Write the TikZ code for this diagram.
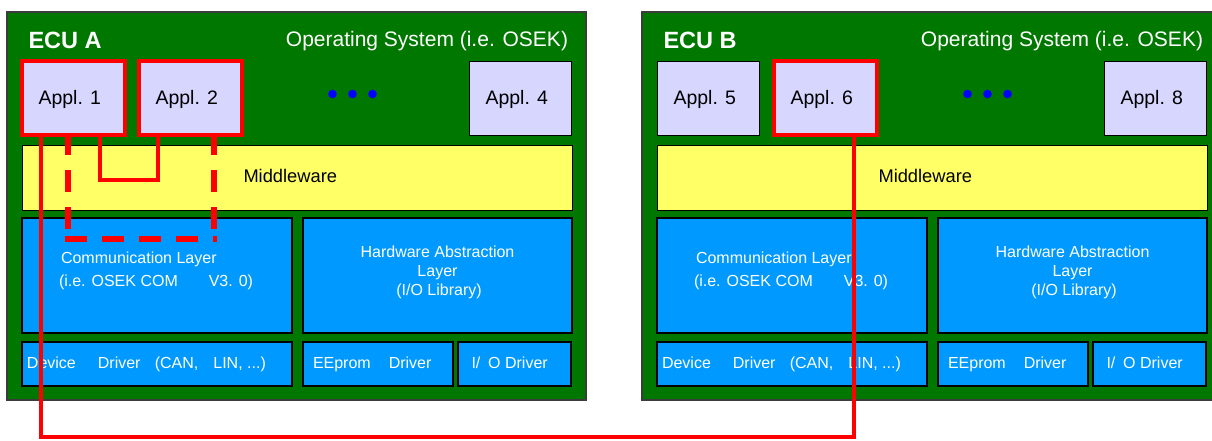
\documentclass[tikz,border=0pt]{standalone}
\usepackage{fontspec}
\setmainfont{Liberation Sans}
\usetikzlibrary{calc}
\definecolor{ecugreen}{RGB}{0,120,0}
\definecolor{appllav}{RGB}{214,214,255}
\definecolor{mwyellow}{RGB}{255,255,102}
\definecolor{layblue}{RGB}{0,153,255}
\definecolor{ecuframe}{RGB}{60,60,60}
\tikzset{
 box/.style={rectangle, anchor=north west, inner sep=0pt, outer sep=0pt},
 ecubox/.style={box, fill=ecugreen, draw=ecuframe, line width=1.5pt, minimum width=579pt, minimum height=388pt},
 applbox/.style={box, fill=appllav, draw=black, line width=1pt, minimum width=102.5pt, minimum height=74pt},
 hilite/.style={draw=red, line width=4pt},
 mwbox/.style={box, fill=mwyellow, draw=black, line width=1pt, minimum width=550pt, minimum height=65pt},
 laybox/.style={box, fill=layblue, draw=black, line width=1.5pt},
 txt/.style={inner sep=0pt, outer sep=0pt, anchor=base west},
 ecutitle/.style={txt, text=white, font=\fontsize{23.5}{26}\selectfont\bfseries},
 ostxt/.style={txt, anchor=base east, text=white, font=\fontsize{21}{24}\selectfont},
 appltxt/.style={txt, font=\fontsize{19.5}{22}\selectfont},
 mwtxt/.style={txt, font=\fontsize{18.3}{21}\selectfont},
 laytxt/.style={txt, text=white, font=\fontsize{16}{19}\selectfont},
 dotmark/.style={circle, fill=blue, inner sep=0pt, outer sep=0pt, minimum size=8.6pt},
 redsolid/.style={draw=red, line width=4pt},
 reddash/.style={draw=red, line width=5.5pt, dash pattern=on 22pt off 15pt},
}
\newcommand\ecubody[7]{%
 \node[ecubox] (#1ecu) at (7,12) {};
 \node[ecutitle] (#1title) at (28.5,48.3) {#2};
 \node[ostxt] (#1os) at (568,46) {Operating System (i.e. OSEK)};
 \node[applbox,#4] (#1a1) at (22,61) {};
 \node[applbox,#6] (#1a2) at (139,61) {};
 \node[applbox] (#1a3) at (469,61) {};
 \node[appltxt] (#1t1) at (38.5,104.3) {#3};
 \node[appltxt] (#1t2) at (155.5,104.3) {#5};
 \node[appltxt] (#1t3) at (485.5,104.3) {#7};
 \node[dotmark] (#1d1) at (332.5,94) {};
 \node[dotmark] (#1d2) at (352.5,94) {};
 \node[dotmark] (#1d3) at (372.5,94) {};
 \node[mwbox] (#1mw) at (22,145) {};
 \node[mwtxt] (#1mwt) at (243.5,182.5) {Middleware};
 \node[laybox, minimum width=270pt, minimum height=115pt] (#1com) at (22,218) {};
 \node[laybox, minimum width=269pt, minimum height=115pt] (#1hal) at (303,218) {};
 \node[laybox, minimum width=270pt, minimum height=44pt] (#1dev) at (22,342) {};
 \node[laybox, minimum width=150pt, minimum height=44pt] (#1eep) at (303,342) {};
 \node[laybox, minimum width=113pt, minimum height=44pt] (#1io) at (458,342) {};
 \node[laytxt] (#1comta) at (61,263.4) {Communication Layer};
 \node[laytxt] (#1comtb) at (59,286.4) {(i.e. OSEK COM\hspace{31pt}V3. 0)};
 \node[laytxt, anchor=base] (#1halta) at (437.5,257.4) {Hardware Abstraction};
 \node[laytxt, anchor=base] (#1haltb) at (437.5,276) {Layer};
 \node[laytxt, anchor=base] (#1haltc) at (439,295) {(I/O Library)};
 \node[laytxt] (#1devt) at (27,368.3) {Device\hspace{22pt}Driver\hspace{14.3pt}(CAN,\hspace{15pt}LIN, ...)};
 \node[laytxt] (#1eept) at (313,368.3) {EEprom\hspace{18pt}Driver};
 \node[laytxt] (#1iot) at (471.5,368.3) {I/\hspace{7.8pt}O Driver};
}
\begin{document}
\begin{tikzpicture}[x=1pt, y=-1pt]
\useasboundingbox (0,0) rectangle (1212,440);
\clip (0,0) rectangle (1212,440);
\fill[white] (0,0) rectangle (1212,440);
\ecubody{A}{ECU A}{Appl. 1}{hilite}{Appl. 2}{hilite}{Appl. 4}
\begin{scope}[xshift=635pt]
\ecubody{B}{ECU B}{Appl. 5}{}{Appl. 6}{hilite}{Appl. 8}
\end{scope}
\coordinate (busy) at (0,437);
\coordinate (brky) at (0,180);
\coordinate (dshy) at (0,239);
\coordinate (s1) at ([xshift=19pt]Aa1.south west);
\coordinate (s2) at ([xshift=80pt]Ba2.south west);
\draw[redsolid] (s1) -- (s1 |- busy) -- (s2 |- busy) -- (s2);
\coordinate (b1) at ([xshift=78pt]Aa1.south west);
\coordinate (b2) at ([xshift=19pt]Aa2.south west);
\draw[redsolid] (b1) -- (b1 |- brky) -- (b2 |- brky) -- (b2);
\coordinate (d1) at ([xshift=46pt]Aa1.south west);
\coordinate (d2) at ([xshift=75pt]Aa2.south west);
\draw[reddash, dash phase=2pt] (d1) -- ($(d1 |- dshy)+(0,2.75)$);
\draw[reddash, dash phase=2pt] (d2) -- ($(d2 |- dshy)+(0,2.75)$);
\draw[reddash] ($(d1 |- dshy)+(-2.75,0)$) -- ($(d2 |- dshy)+(2.75,0)$);
\end{tikzpicture}
\end{document}
